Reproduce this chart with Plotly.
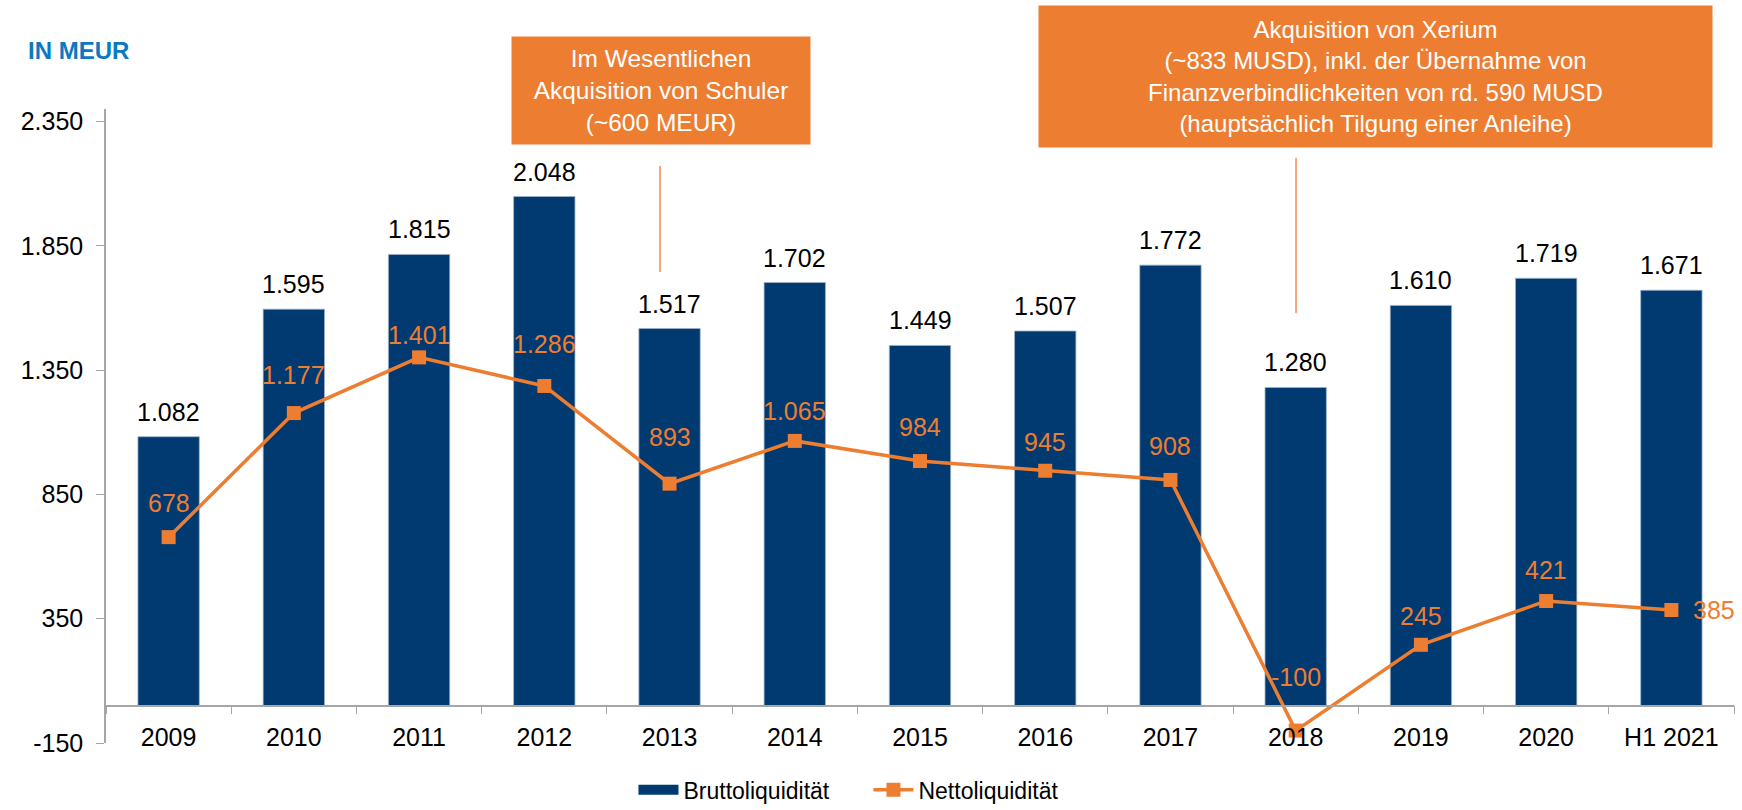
import plotly.graph_objects as go

years = ["2009", "2010", "2011", "2012", "2013", "2014", "2015",
         "2016", "2017", "2018", "2019", "2020", "H1 2021"]
brutto = [1082, 1595, 1815, 2048, 1517, 1702, 1449, 1507, 1772, 1280, 1610, 1719, 1671]
netto = [678, 1177, 1401, 1286, 893, 1065, 984, 945, 908, -100, 245, 421, 385]
y_ticks = [-150, 350, 850, 1350, 1850, 2350]

# label placement (px above the point), tweaked like in the original slide
netto_label_dy = [34, 38, 22, 42, 47, 30, 34, 29, 34, 54, 29, 31, 0]

NAVY = "#003a70"
ORANGE = "#ed7d31"
FONT = "Liberation Sans, Arial, sans-serif"


def de(v):
    return f"{v:,}".replace(",", ".")


fig = go.Figure()
fig.add_trace(go.Bar(
    x=years, y=brutto, name="Bruttoliquidität", showlegend=False,
    marker=dict(color=NAVY, line=dict(color="#9fb3c8", width=0.8)),
))
# legend entry drawn as a wide block like in the slide
fig.add_trace(go.Scatter(
    x=[None], y=[None], name="Bruttoliquidität", mode="lines",
    line=dict(color=NAVY, width=14),
))
fig.add_trace(go.Scatter(
    x=years, y=netto, name="Nettoliquidität", mode="lines+markers",
    line=dict(color=ORANGE, width=3.5),
    marker=dict(symbol="square", size=14, color=ORANGE),
))

for i, v in enumerate(brutto):
    fig.add_annotation(x=i, y=v, text=de(v), showarrow=False, yanchor="middle",
                       yshift=25, font=dict(size=25, color="black", family=FONT))

for i, v in enumerate(netto):
    if years[i] == "H1 2021":
        fig.add_annotation(x=i, y=v, text=de(v), showarrow=False, xanchor="left",
                           xshift=20, font=dict(size=25, color=ORANGE, family=FONT))
    else:
        fig.add_annotation(x=i, y=v, text=de(v), showarrow=False, yanchor="middle",
                           yshift=netto_label_dy[i], font=dict(size=25, color=ORANGE, family=FONT))

# callout boxes
fig.add_annotation(
    xref="paper", yref="paper", x=0.3409, y=1.029, xanchor="center", yanchor="middle",
    text="Im Wesentlichen<br>Akquisition von Schuler<br>(~600 MEUR)",
    showarrow=False, bgcolor=ORANGE, width=298, height=107, borderpad=0,
    font=dict(size=24.5, color="white", family=FONT),
)
fig.add_annotation(
    xref="paper", yref="paper", x=0.7798, y=1.051, xanchor="center", yanchor="middle",
    text="Akquisition von Xerium<br>(~833 MUSD), inkl. der Übernahme von<br>"
         "Finanzverbindlichkeiten von rd. 590 MUSD<br>(hauptsächlich Tilgung einer Anleihe)",
    showarrow=False, bgcolor=ORANGE, width=673, height=141, borderpad=0,
    font=dict(size=24, color="white", family=FONT),
)
fig.add_shape(type="line", xref="paper", yref="paper", x0=0.3403, x1=0.3403,
              y0=0.743, y1=0.910, line=dict(color="#f4a77a", width=2))
fig.add_shape(type="line", xref="paper", yref="paper", x0=0.731, x1=0.731,
              y0=0.678, y1=0.923, line=dict(color="#f4a77a", width=2))

fig.add_annotation(
    xref="paper", yref="paper", x=-0.0491, y=1.0915, xanchor="left", yanchor="middle",
    text="<b>IN MEUR</b>", showarrow=False,
    font=dict(size=24, color="#0b78c2", family=FONT),
)

fig.update_layout(
    width=1742, height=810,
    margin=dict(l=106, r=8, t=109, b=67, autoexpand=False),
    plot_bgcolor="white", paper_bgcolor="white",
    font=dict(family=FONT, size=25, color="black"),
    bargap=0.51,
    showlegend=True,
    legend=dict(orientation="h", x=0.324, y=-0.074, xanchor="left", yanchor="middle",
                font=dict(size=23, family=FONT), itemwidth=40, traceorder="normal",
                entrywidth=180),
    xaxis=dict(
        type="category", categoryorder="array", categoryarray=years,
        range=[-0.5, len(years) - 0.5], autorange=False,
        anchor="free", position=150 / 2550,
        showline=True, linecolor="#a6a6a6", linewidth=1.5,
        ticks="outside", tickson="boundaries", ticklen=8, tickcolor="#a6a6a6",
        showgrid=False, tickfont=dict(size=25), ticklabelstandoff=10, tickangle=0,
    ),
    yaxis=dict(
        range=[-150, 2400], tickvals=y_ticks, ticktext=[de(v) for v in y_ticks],
        showline=True, linecolor="#a6a6a6", linewidth=1.5,
        ticks="outside", ticklen=8, tickcolor="#a6a6a6",
        showgrid=False, zeroline=False, tickfont=dict(size=25), ticklabelstandoff=8,
    ),
)

fig.write_html("out.html", config={"displayModeBar": False},
               post_script="document.body.style.margin = '0px';")
